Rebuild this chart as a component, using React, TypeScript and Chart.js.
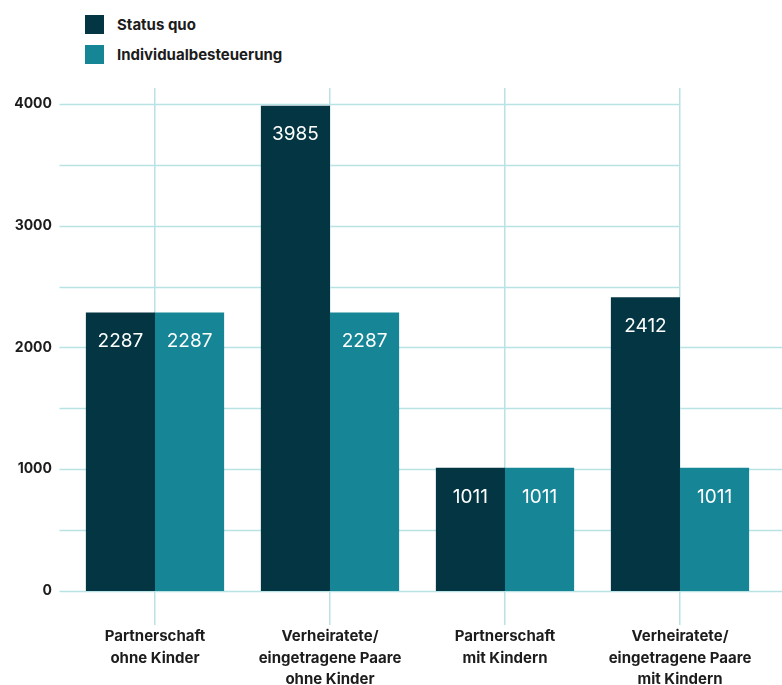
import React, { useEffect, useRef } from "react";
import { Chart, registerables } from "chart.js";

Chart.register(...registerables);

const categories: string[][] = [
  ["Partnerschaft", "ohne Kinder"],
  ["Verheiratete/", "eingetragene Paare", "ohne Kinder"],
  ["Partnerschaft", "mit Kindern"],
  ["Verheiratete/", "eingetragene Paare", "mit Kindern"],
];
const seriesNames = ["Status quo", "Individualbesteuerung"];
const statusQuo = [2287, 3985, 1011, 2412];
const individual = [2287, 2287, 1011, 1011];
const yTickStep = 500;
const yLabelStep = 1000;
const yTickMax = 4000;
const yAxisMax = 4130;
const shortGridAbove = 2000;

const DARK = "#033642";
const TEAL = "#168697";
const GRID = "#b9e2e5";
const TEXT = "#1c1c1c";
const FONT = "Inter, 'Open Sans', sans-serif";

const gridPlugin = {
  id: "customGrid",
  beforeDatasetsDraw(chart: any) {
    const { ctx, chartArea, scales } = chart;
    const y = scales.y;
    const x = scales.x;
    ctx.save();
    ctx.strokeStyle = GRID;
    ctx.lineWidth = 1.5;
    y.ticks.forEach((t: any) => {
      const py = Math.round(y.getPixelForValue(t.value)) + 0.5;
      const xEnd = t.value > shortGridAbove ? x.getPixelForValue(categories.length - 1) : chart.width;
      ctx.beginPath();
      ctx.moveTo(chartArea.left - 8, py);
      ctx.lineTo(xEnd, py);
      ctx.stroke();
    });
    ctx.restore();
  },
};

const valueLabelPlugin = {
  id: "valueLabels",
  afterDatasetsDraw(chart: any) {
    const { ctx } = chart;
    ctx.save();
    ctx.fillStyle = "#ffffff";
    ctx.font = `400 19px ${FONT}`;
    ctx.textAlign = "center";
    ctx.textBaseline = "middle";
    chart.data.datasets.forEach((ds: any, di: number) => {
      const meta = chart.getDatasetMeta(di);
      meta.data.forEach((el: any, i: number) => {
        ctx.fillText(String(ds.data[i]), el.x, el.y + 29);
      });
    });
    ctx.restore();
  },
};

export default function App() {
  const ref = useRef<HTMLCanvasElement | null>(null);
  useEffect(() => {
    if (!ref.current) return;
    const chart = new Chart(ref.current, {
      type: "bar",
      data: {
        labels: categories,
        datasets: [
          { label: seriesNames[0], data: statusQuo, backgroundColor: DARK, borderWidth: 0 },
          { label: seriesNames[1], data: individual, backgroundColor: TEAL, borderWidth: 0 },
        ],
      },
      plugins: [gridPlugin, valueLabelPlugin],
      options: {
        animation: false,
        responsive: true,
        maintainAspectRatio: false,
        datasets: { bar: { categoryPercentage: 0.79, barPercentage: 1.0 } },
        layout: { padding: { top: 88, right: 14.5, left: 0, bottom: 0 } },
        plugins: { legend: { display: false }, tooltip: { enabled: false } },
        scales: {
          x: {
            grid: { offset: false, color: GRID, lineWidth: 1.5, tickLength: 34, drawOnChartArea: true },
            border: { display: false },
            ticks: {
              color: TEXT,
              padding: 1,
              maxRotation: 0,
              autoSkip: false,
              font: { family: FONT, size: 15, weight: "bold", lineHeight: 1.43 },
            },
            afterFit: (s: any) => {
              s.height = 94;
            },
          },
          y: {
            min: 0,
            max: yAxisMax,
            grid: { display: false, tickLength: 8 },
            border: { display: false },
            ticks: {
              color: TEXT,
              padding: 7.5,
              font: { family: FONT, size: 14, weight: "bold" },
              callback: (v: any) => (Number(v) % yLabelStep === 0 ? String(v) : ""),
            },
            afterBuildTicks: (s: any) => {
              const t: any[] = [];
              for (let v = 0; v <= yTickMax; v += yTickStep) t.push({ value: v });
              s.ticks = t;
            },
            afterFit: (s: any) => {
              s.width = 67.5;
            },
          },
        },
      },
    });
    return () => chart.destroy();
  }, []);

  const legendItem = (name: string, color: string, top: number) => (
    <div
      key={name}
      style={{
        position: "absolute",
        left: 85,
        top,
        height: 19,
        display: "flex",
        alignItems: "center",
        fontFamily: FONT,
        fontWeight: 700,
        fontSize: 15,
        color: TEXT,
        whiteSpace: "nowrap",
      }}
    >
      <span style={{ display: "inline-block", width: 19, height: 19, background: color, marginRight: 13 }} />
      <span>{name}</span>
    </div>
  );

  return (
    <div style={{ position: "absolute", left: 0, top: 0, width: 782, height: 685, background: "#fff" }}>
      {legendItem(seriesNames[0], DARK, 15)}
      {legendItem(seriesNames[1], TEAL, 45)}
      <canvas ref={ref} style={{ position: "absolute", left: 0, top: 0 }} />
    </div>
  );
}
